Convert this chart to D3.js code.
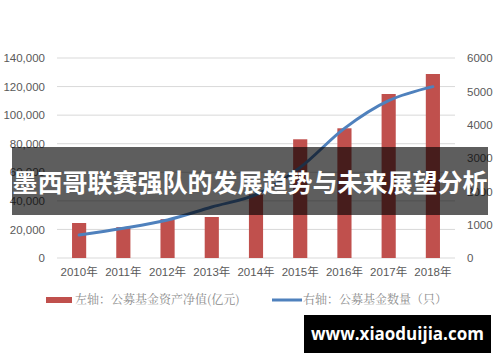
<!DOCTYPE html>
<html>
<head>
<meta charset="utf-8">
<script src="https://cdn.jsdelivr.net/npm/d3@7/dist/d3.min.js"></script>
<style>
  body { margin: 0; background: #fff; }
  svg { display: block; }
</style>
</head>
<body>
<script>
var width = 500,
    height = 362,
    marginLeft = 57,
    marginRight = 45,
    marginTop = 58,
    plotBottom = 258
;

// data
var years = ["2010年", "2011年", "2012年", "2013年", "2014年", "2015年", "2016年", "2017年", "2018年"];
var assets = [24500, 21600, 27200, 28700, 44500, 83100, 90800, 114800, 128800];
var fundCount = [690, 890, 1140, 1530, 1900, 2720, 3890, 4720, 5140];
var leftTicks = [0, 20000, 40000, 60000, 80000, 100000, 120000, 140000];
var rightTicks = [0, 1000, 2000, 3000, 4000, 5000, 6000];
var legendLabels = ["左轴：公募基金资产净值(亿元)", "右轴：公募基金数量（只）"];
var title = "墨西哥联赛强队的发展趋势与未来展望分析";
var watermark = "www.xiaoduijia.com";

var svg = d3.select("body").append("svg")
    .attr("width", width)
    .attr("height", height)
;

var x = d3.scaleBand()
    .domain(years)
    .range([marginLeft, width - marginRight])
    .paddingInner(0.68)
    .paddingOuter(0.34)
;

var yLeft = d3.scaleLinear()
    .domain([0, 140000])
    .range([plotBottom, marginTop])
;

var yRight = d3.scaleLinear()
    .domain([0, 6000])
    .range([plotBottom, marginTop])
;

// gridlines
svg.append("g")
    .selectAll("line")
    .data(leftTicks)
    .join("line")
    .attr("x1", marginLeft)
    .attr("x2", width - marginRight)
    .attr("y1", d => yLeft(d))
    .attr("y2", d => yLeft(d))
    .attr("stroke", "#d9d9d9")
    .attr("stroke-width", 1)
;

// left axis
var axisLeft = d3.axisLeft(yLeft)
    .tickValues(leftTicks)
    .tickFormat(d3.format(","))
    .tickSize(0)
    .tickPadding(12)
;
var gl = svg.append("g")
    .attr("transform", `translate(${marginLeft},0)`)
    .call(axisLeft);
gl.select(".domain").remove();
gl.selectAll("text")
    .attr("fill", "#595959")
    .style("font-family", "'Liberation Sans', Arial, sans-serif")
    .style("font-size", "11.5px");

// right axis
var axisRight = d3.axisRight(yRight)
    .tickValues(rightTicks)
    .tickFormat(d3.format("d"))
    .tickSize(0)
    .tickPadding(12)
;
var gr = svg.append("g")
    .attr("transform", `translate(${width - marginRight},0)`)
    .call(axisRight);
gr.select(".domain").remove();
gr.selectAll("text")
    .attr("fill", "#595959")
    .style("font-family", "'Liberation Sans', Arial, sans-serif")
    .style("font-size", "11.5px");

// bottom axis
var axisBottom = d3.axisBottom(x)
    .tickSize(0)
    .tickPadding(10)
;
var gb = svg.append("g")
    .attr("transform", `translate(0,${plotBottom})`)
    .call(axisBottom);
gb.select(".domain").remove();
gb.selectAll("text")
    .attr("fill", "#595959")
    .style("font-family", "'Liberation Sans', 'Noto Sans CJK SC', sans-serif")
    .style("font-size", "11.5px");

// bars
svg.append("g")
    .selectAll("rect")
    .data(assets)
    .join("rect")
    .attr("x", (d, i) => x(years[i]))
    .attr("y", d => yLeft(d))
    .attr("width", x.bandwidth())
    .attr("height", d => plotBottom - yLeft(d))
    .attr("fill", "#c0504d")
;

// line
var line = d3.line()
    .x((d, i) => x(years[i]) + x.bandwidth() / 2)
    .y(d => yRight(d))
    .curve(d3.curveCatmullRom.alpha(0.5))
;
svg.append("path")
    .datum(fundCount)
    .attr("d", line)
    .attr("fill", "none")
    .attr("stroke", "#4f81bd")
    .attr("stroke-width", 3)
    .attr("stroke-linecap", "round")
;

// legend
var legendY = 300;
svg.append("rect")
    .attr("x", 46)
    .attr("y", legendY - 3)
    .attr("width", 26)
    .attr("height", 6)
    .attr("fill", "#c0504d");
svg.append("text")
    .attr("x", 75)
    .attr("y", legendY)
    .attr("dy", "0.35em")
    .attr("fill", "#8c8c8c")
    .style("font-family", "'Noto Serif CJK SC', 'Noto Sans CJK SC', serif")
    .style("font-size", "12px")
    .text(legendLabels[0]);
svg.append("line")
    .attr("x1", 272)
    .attr("x2", 302)
    .attr("y1", legendY)
    .attr("y2", legendY)
    .attr("stroke", "#4f81bd")
    .attr("stroke-width", 3);
svg.append("text")
    .attr("x", 303)
    .attr("y", legendY)
    .attr("dy", "0.35em")
    .attr("fill", "#8c8c8c")
    .style("font-family", "'Noto Serif CJK SC', 'Noto Sans CJK SC', serif")
    .style("font-size", "12px")
    .text(legendLabels[1]);

// title banner
svg.append("rect")
    .attr("x", 12)
    .attr("y", 147)
    .attr("width", 476)
    .attr("height", 68)
    .attr("fill", "#000")
    .attr("fill-opacity", 0.63);
svg.append("text")
    .attr("x", 250)
    .attr("y", 183)
    .attr("dy", "0.35em")
    .attr("text-anchor", "middle")
    .attr("fill", "#fff")
    .style("font-family", "'Noto Sans CJK SC', sans-serif")
    .style("font-weight", "bold")
    .style("font-size", "25px")
    .text(title);

// watermark
svg.append("rect")
    .attr("x", 304)
    .attr("y", 315)
    .attr("width", 187)
    .attr("height", 38)
    .attr("fill", "#000");
svg.append("text")
    .attr("x", 397.5)
    .attr("y", 334)
    .attr("dy", "0.35em")
    .attr("text-anchor", "middle")
    .attr("fill", "#fff")
    .style("font-family", "'Open Sans', 'DejaVu Sans', sans-serif")
    .style("font-weight", "bold")
    .style("font-size", "17px")
    .text(watermark);
</script>
</body>
</html>
